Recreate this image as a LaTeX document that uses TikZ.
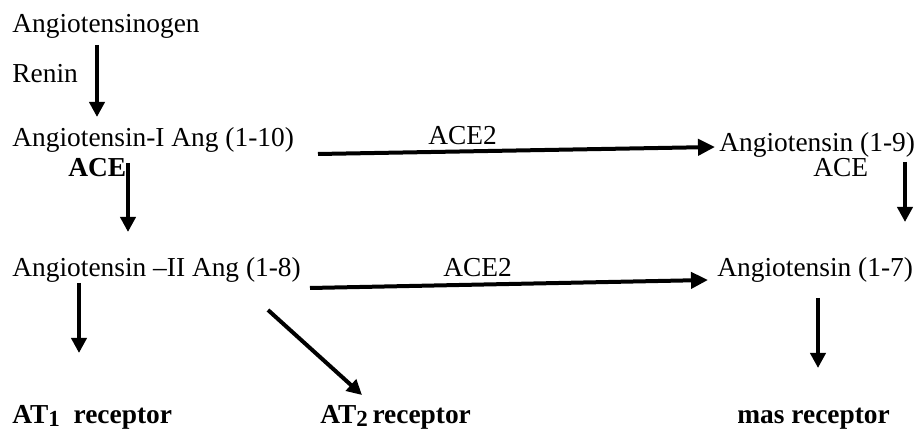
\documentclass[tikz,border=0pt]{standalone}
\usepackage{fontspec}
\setmainfont{Liberation Serif}
\usetikzlibrary{calc,arrows.meta}

\newcommand{\lowsub}[1]{\raisebox{-1.5pt}{\fontsize{11.5}{12}\selectfont #1}}

\begin{document}
\begin{tikzpicture}[
x=0.5pt,y=-0.5pt,
every node/.style={
inner sep=0,
anchor=base west,
font=\fontsize{13.7}{16}\selectfont
},
arr/.style={
line width=2pt,
-{Triangle[length=7.5pt,width=7.5pt]}
},
longarr/.style={
line width=2pt,
-{Triangle[length=8.5pt,width=8pt]}
}
]
\useasboundingbox (0,0) rectangle (916,432);

\node (gen) at (12,33)
{Angiotensinogen};

\node (renin) at (12,83)
{Renin};

\node (ang1) at (12,147)
{Angiotensin-I Ang (1-10)};

\node (ace) at (68,177)
{\textbf{ACE}};

\node (ang2) at (12,277)
{Angiotensin --II Ang (1-8)};

\node (ang9) at (719,152)
{Angiotensin (1-9)};

\node (acer) at (813,177)
{ACE};

\node (ang7) at (717,277)
{Angiotensin (1-7)};

\node (aceA) at (428,145)
{ACE2};

\node (aceB) at (443,277)
{ACE2};

\node (at1) at (12,424)
{\textbf{AT\lowsub{1}\ \ receptor}};

\node (at2) at (320,424)
{\textbf{AT\lowsub{2}\,receptor}};

\node (mas) at (737,424)
{\textbf{mas receptor}};

\draw[arr] ($(gen.base west)+(85,12)$) -- ($(ang1.base west)+(85,-30)$);
\draw[arr] ($(ang1.base west)+(116,16)$) -- ($(ang2.base west)+(116,-45)$);
\draw[longarr] ($(ang1.base west)+(306,7)$) -- ($(ang9.base west)+(-4,-5)$);
\draw[arr] ($(ang9.base west)+(186,10)$) -- ($(ang7.base west)+(188,-55)$);
\draw[longarr] ($(ang2.base west)+(298,11)$) -- ($(ang7.base west)+(-9,3)$);
\draw[arr] ($(ang2.base west)+(67,6)$) -- ($(at1.base west)+(67,-71)$);
\draw[arr] ($(ang2.base west)+(256,33)$) -- ($(at2.base west)+(42,-29)$);
\draw[arr] ($(ang7.base west)+(101,21)$) -- ($(mas.base west)+(81,-56)$);

\end{tikzpicture}
\end{document}
